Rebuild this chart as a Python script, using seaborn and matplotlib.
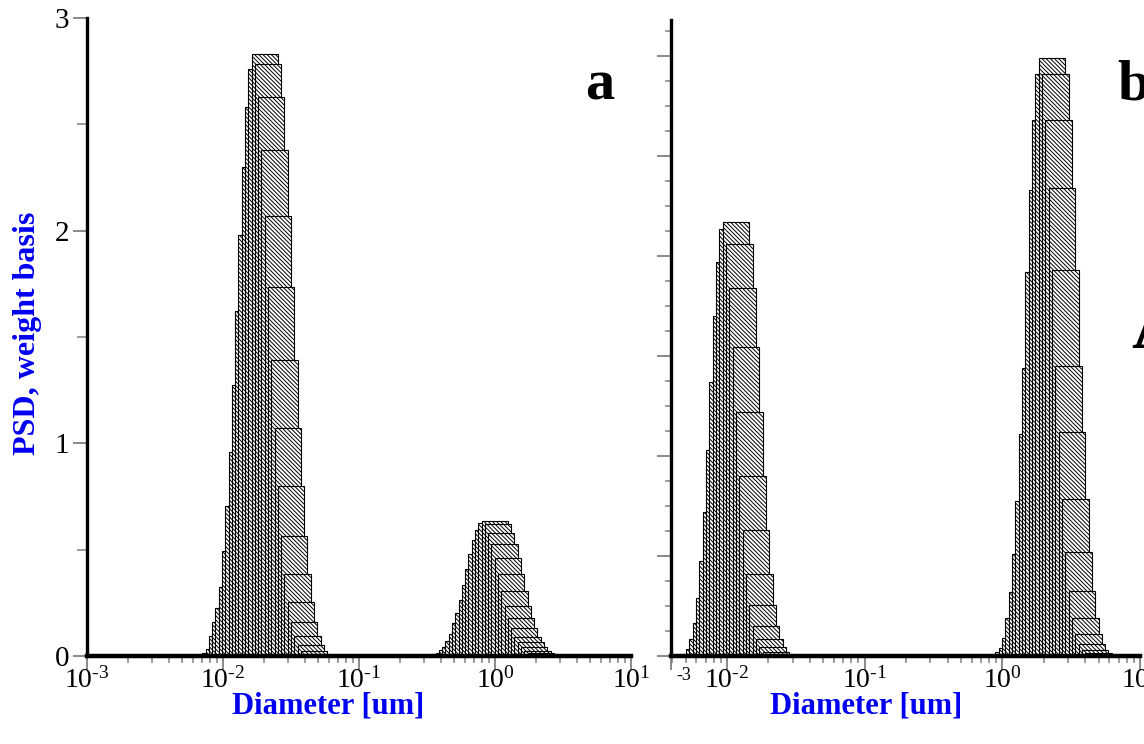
import numpy as np
import pandas as pd
import matplotlib
matplotlib.use("Agg")
import matplotlib.pyplot as plt
from matplotlib.ticker import (LogLocator, FuncFormatter, MultipleLocator,
                               NullFormatter, FixedLocator)
import seaborn as sns

# ---- sectional size grid -------------------------------------------------
SECTION_D0 = 3.06e-3      # lower diameter of section 0 [um]
SECTION_RATIO = 1.0572    # geometric ratio between neighbouring sections
SECTIONS_PER_BAR = 8      # each bar spans this many sections

# ---- panel a: weight-basis PSD per section --------------------------------
a_mode1_first = 14
a_mode1 = [0.008, 0.016, 0.035, 0.094, 0.16, 0.227, 0.325, 0.496, 0.707, 0.957,
           1.275, 1.62, 1.98, 2.30, 2.58, 2.76, 2.83, 2.786, 2.63, 2.38, 2.07,
           1.736, 1.393, 1.073, 0.798, 0.565, 0.386, 0.256, 0.16, 0.094, 0.054,
           0.025, 0.010]
a_mode2_first = 85
a_mode2 = [0.009, 0.016, 0.028, 0.044, 0.07, 0.104, 0.154, 0.2, 0.263, 0.334,
           0.408, 0.478, 0.546, 0.593, 0.627, 0.635, 0.62, 0.58, 0.526, 0.46,
           0.385, 0.307, 0.237, 0.18, 0.13, 0.091, 0.064, 0.041, 0.025, 0.016,
           0.009]

# ---- panel b ---------------------------------------------------------------
b_mode1_first = 8
b_mode1 = [0.012, 0.035, 0.083, 0.163, 0.29, 0.475, 0.72, 1.03, 1.37, 1.70,
           1.97, 2.133, 2.17, 2.06, 1.84, 1.545, 1.22, 0.90, 0.63, 0.41, 0.255,
           0.15, 0.083, 0.047, 0.02, 0.01]
b_mode2_first = 101
b_mode2 = [0.008, 0.018, 0.038, 0.088, 0.19, 0.32, 0.51, 0.775, 1.11, 1.44,
           1.92, 2.33, 2.68, 2.91, 2.99, 2.91, 2.68, 2.34, 1.93, 1.45, 1.12,
           0.785, 0.52, 0.325, 0.19, 0.112, 0.062, 0.032, 0.015]

a_yticks = [0, 1, 2, 3]
a_xlim = (1e-3, 1e1)
b_xlim = (10 ** -2.4067, 1e1)
b_decades = [1e-2, 1e-1, 1e0, 1e1]
x_label = "Diameter [um]"
y_label = "PSD, weight basis"


def psd_frame(modes):
    """One row per bar: bar centre (geometric) diameter and PSD value."""
    rows = []
    for first, heights in modes:
        for i, h in enumerate(heights):
            lower = SECTION_D0 * SECTION_RATIO ** (first + i)
            centre = lower * SECTION_RATIO ** (SECTIONS_PER_BAR / 2)
            rows.append((centre, h))
    return pd.DataFrame(rows, columns=["diameter", "psd"])


df_a = psd_frame([(a_mode1_first, a_mode1), (a_mode2_first, a_mode2)])
df_b = psd_frame([(b_mode1_first, b_mode1), (b_mode2_first, b_mode2)])

sns.set_style("ticks")
plt.rcParams["font.family"] = ["Liberation Serif", "DejaVu Serif"]
plt.rcParams["mathtext.fontset"] = "custom"
plt.rcParams["mathtext.rm"] = "Liberation Serif"
plt.rcParams["mathtext.it"] = "Liberation Serif:italic"
plt.rcParams["mathtext.bf"] = "Liberation Serif:bold"
plt.rcParams["hatch.linewidth"] = 0.7
plt.rcParams["axes.facecolor"] = "none"
plt.rcParams["text.color"] = "black"
plt.rcParams["xtick.labelcolor"] = "black"
plt.rcParams["ytick.labelcolor"] = "black"

W, H = 1144, 744
fig = plt.figure(figsize=(W / 100, H / 100), dpi=100)
fig.patch.set_facecolor("white")


def axes_px(left, top, right, bottom):
    return fig.add_axes([left / W, 1 - bottom / H, (right - left) / W, (bottom - top) / H])


ax_a = axes_px(87, 18, 631, 656)
ax_b = axes_px(671, 20, 1140, 656)

tick_grey = "#808080"
blue = "#0000f0"
hatch = "\\" * 8


def decade_label(v, pos):
    e = np.log10(v)
    if abs(e - round(e)) > 1e-6:
        return ""
    return r"$10^{\text{%d}}$" % int(round(e))


for ax, df in ((ax_a, df_a), (ax_b, df_b)):
    sns.barplot(data=df, x="diameter", y="psd", orient="x", native_scale=True,
                log_scale=(True, False), width=SECTIONS_PER_BAR, color="white",
                edgecolor="black", linewidth=0.8, hatch=hatch, errorbar=None,
                ax=ax)
    for side in ("top", "right"):
        ax.spines[side].set_visible(False)
    ax.spines["left"].set_linewidth(2.4)
    ax.spines["bottom"].set_linewidth(3.2)
    ax.spines["left"].set_color("black")
    ax.spines["bottom"].set_color("black")
    ax.xaxis.set_minor_locator(LogLocator(base=10, subs=np.arange(2, 10), numticks=40))
    ax.xaxis.set_major_formatter(FuncFormatter(decade_label))
    ax.xaxis.set_minor_formatter(NullFormatter())
    ax.tick_params(axis="x", which="major", direction="out", length=10, width=1.3,
                   color=tick_grey, labelsize=20, pad=-2)
    ax.tick_params(axis="x", which="minor", direction="out", length=5, width=1.1,
                   color=tick_grey)
    ax.tick_params(axis="y", which="both", direction="out", color=tick_grey)
    ax.set_xlabel("")
    ax.set_ylabel("")

# panel a axes
ax_a.set_xlim(*a_xlim)
ax_a.xaxis.set_major_locator(LogLocator(base=10, numticks=20))
ax_a.set_ylim(0, 3)
ax_a.yaxis.set_major_locator(FixedLocator(a_yticks))
ax_a.yaxis.set_minor_locator(MultipleLocator(0.5))
ax_a.tick_params(axis="y", which="major", length=10, width=1.3, labelsize=21, pad=3)
ax_a.tick_params(axis="y", which="minor", length=7, width=1.1)

# panel b axes
ax_b.set_xlim(*b_xlim)
ax_b.xaxis.set_major_locator(FixedLocator([b_xlim[0]] + b_decades))
ax_b.set_ylim(0, 3.18)
ax_b.yaxis.set_major_locator(MultipleLocator(0.5))
ax_b.yaxis.set_minor_locator(MultipleLocator(0.125))
ax_b.yaxis.set_major_formatter(NullFormatter())
ax_b.tick_params(axis="y", which="major", length=10, width=1.3)
ax_b.tick_params(axis="y", which="minor", length=4, width=1.1)


def fig_text(x, y, s, **kw):
    fig.text(x / W, 1 - y / H, s, **kw)


# axis titles
fig_text(328, 706, x_label, color=blue, fontsize=22, fontweight="bold", ha="center", va="center")
fig_text(866, 706, x_label, color=blue, fontsize=22, fontweight="bold", ha="center", va="center")
fig_text(28, 333, y_label, color=blue, fontsize=23, fontweight="bold", ha="center",
         va="center", rotation=90)

# panel letters
fig_text(600, 100, "a", fontsize=42, fontweight="bold", ha="center", va="baseline")
fig_text(1117, 100, "b", fontsize=42, fontweight="bold", ha="left", va="baseline")
fig_text(1131, 348, "A", fontsize=54, fontweight="bold", ha="left", va="baseline")
# exponent of the leftmost decade on panel b
fig_text(684, 676, "-3", fontsize=13, ha="center", va="center")

fig.savefig("out.png", dpi=100)
